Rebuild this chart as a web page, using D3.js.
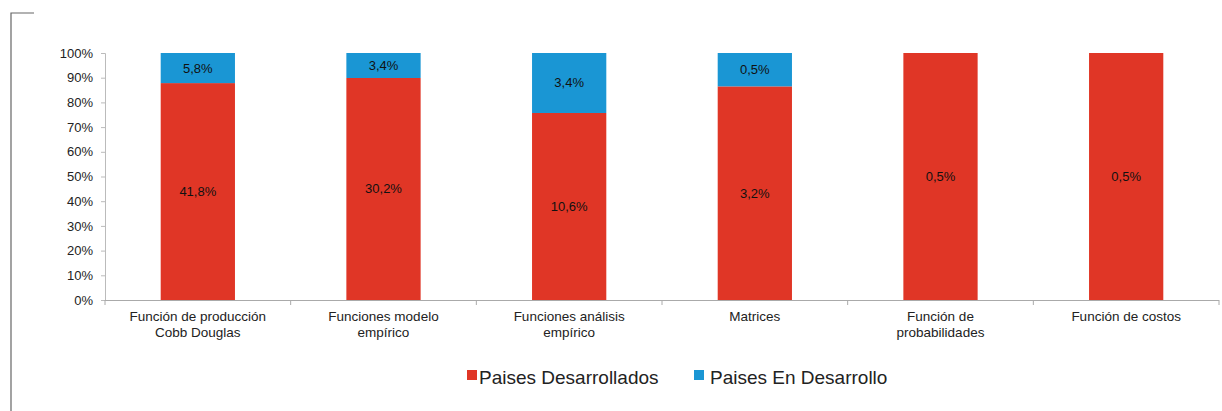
<!DOCTYPE html>
<html><head><meta charset="utf-8">
<script src="https://cdn.jsdelivr.net/npm/d3@7"></script>
<style>body{margin:0;background:#fff}svg{display:block;font-family:"Liberation Sans",Arial,sans-serif}</style>
</head><body>
<svg id="c" width="1222" height="411"></svg>
<script>
const categories = [
  ["Función de producción","Cobb Douglas"],
  ["Funciones modelo","empírico"],
  ["Funciones análisis","empírico"],
  ["Matrices"],
  ["Función de","probabilidades"],
  ["Función de costos"]
];
const desarrollados = [41.8, 30.2, 10.6, 3.2, 0.5, 0.5];
const enDesarrollo = [5.8, 3.4, 3.4, 0.5, 0, 0];
const yTicks = [0,10,20,30,40,50,60,70,80,90,100];
const seriesNames = ["Paises Desarrollados","Paises En Desarrollo"];
const colors = ["#E03626","#1A96D4"];

(function(){
const svg = d3.select("#c");
const mL = 105, mR = 1219, mT = 53, mB = 300;
const keys = categories.map((c,i)=>i);
const x = d3.scaleBand().domain(keys).range([mL,mR]).paddingInner(0.6).paddingOuter(0.3);
const y = d3.scaleLinear().domain([0,100]).range([mB,mT]);

svg.append("path").attr("d","M11,411V13H34").attr("fill","none").attr("stroke","#666").attr("stroke-width",1.2);

keys.forEach(i=>{
  const tot = desarrollados[i]+enDesarrollo[i];
  const p1 = desarrollados[i]/tot*100;
  const segs = [[0,p1,desarrollados[i],0],[p1,100,enDesarrollo[i],1]];
  segs.forEach(([a,b,v,s])=>{
    if(v<=0) return;
    svg.append("rect").attr("x",x(i)).attr("width",x.bandwidth())
      .attr("y",y(b)).attr("height",y(a)-y(b)).attr("fill",colors[s]);
    svg.append("text").attr("x",x(i)+x.bandwidth()/2).attr("y",(y(a)+y(b))/2+4.5)
      .attr("text-anchor","middle").attr("font-size",13).attr("fill","#111")
      .text(d3.format(".1f")(v).replace(".",",")+"%");
  });
});

const ya = svg.append("g").attr("transform",`translate(${mL},0)`)
  .call(d3.axisLeft(y).tickValues(yTicks).tickSize(4).tickPadding(8).tickFormat(d=>d+"%"));
ya.select(".domain").attr("stroke","#bbb");
ya.selectAll(".tick line").attr("stroke","#bbb");
ya.selectAll("text").attr("font-size",13).attr("fill","#222").attr("font-family","Liberation Sans, Arial, sans-serif");

svg.append("line").attr("x1",mL).attr("x2",mR).attr("y1",mB+0.5).attr("y2",mB+0.5).attr("stroke","#aaa");
d3.range(categories.length+1).forEach(k=>{
  const xx = mL + k*(mR-mL)/categories.length;
  svg.append("line").attr("x1",xx).attr("x2",xx).attr("y1",mB).attr("y2",mB+5).attr("stroke","#aaa");
});
keys.forEach(i=>{
  const t = svg.append("text").attr("text-anchor","middle").attr("font-size",13.5).attr("fill","#222");
  categories[i].forEach((ln,j)=>{
    t.append("tspan").attr("x",x(i)+x.bandwidth()/2).attr("y",321+j*16).text(ln);
  });
});

const lg = [[467,479],[694,710]];
seriesNames.forEach((n,s)=>{
  svg.append("rect").attr("x",lg[s][0]).attr("y",370).attr("width",10).attr("height",10).attr("fill",colors[s]);
  svg.append("text").attr("x",lg[s][1]).attr("y",384).attr("font-size",19).attr("fill","#222").text(n);
});
})();
</script>
</body></html>
